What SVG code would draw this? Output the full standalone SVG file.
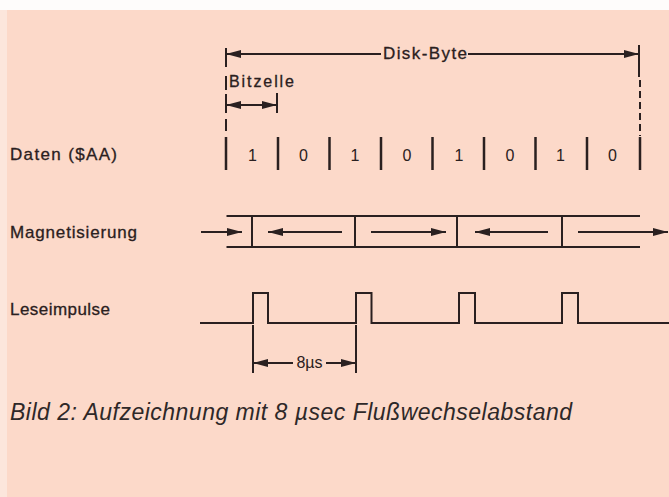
<svg xmlns="http://www.w3.org/2000/svg" width="669" height="497" viewBox="0 0 669 497">
<defs>
<style>
.bg{fill:#fcd9c9}
.ln{stroke:#2a2020;stroke-width:2;fill:none}
.tk{stroke:#2a2020;stroke-width:2.5;fill:none}
.lbl{font-family:"Liberation Sans",Arial,sans-serif;font-size:17px;fill:#2a2020;stroke:#2a2020;stroke-width:0.3}
.dig{font-family:"Liberation Sans",Arial,sans-serif;font-size:16px;fill:#2a2020;text-anchor:middle}
.cap{font-family:"Liberation Sans",Arial,sans-serif;font-size:23px;font-style:italic;fill:#2e2828}
.arr{stroke:#2a2020;stroke-width:2;fill:none;marker-end:url(#ah)}
.arr2{stroke:#2a2020;stroke-width:2;fill:none;marker-start:url(#ah);marker-end:url(#ah)}
</style>
<marker id="ah" markerUnits="userSpaceOnUse" markerWidth="16" markerHeight="10" refX="15" refY="4" orient="auto-start-reverse">
<path d="M0,0 L15,4 L0,8 z" fill="#2a2020"/>
</marker>
</defs>
<rect x="0" y="0" width="669" height="497" fill="#fefcfb"/>
<rect class="bg" x="0" y="10" width="669" height="487"/>
<rect x="0" y="10" width="7" height="487" fill="#fce6dc"/>

<g id="label-daten"><text class="lbl" x="10" y="160" textLength="107" lengthAdjust="spacing">Daten ($AA)</text></g>
<g id="label-magnetisierung"><text class="lbl" x="10" y="237.5" textLength="127" lengthAdjust="spacing">Magnetisierung</text></g>
<g id="label-leseimpulse"><text class="lbl" x="10" y="314.5" textLength="100" lengthAdjust="spacing">Leseimpulse</text></g>

<g id="disk-byte">
<path class="ln" d="M226,48 V67 M226,76 V90 M226,94 V113 M226,119 V131 M639,45 V77"/>
<path class="ln" d="M640,80 V136" stroke-dasharray="7 4"/>
<text class="lbl" x="383" y="59" textLength="84" lengthAdjust="spacing">Disk-Byte</text>
</g>

<g id="bitzelle">
<path class="ln" d="M277,93 V113"/>
<text class="lbl" x="229" y="87" style="font-size:16px" textLength="65" lengthAdjust="spacing">Bitzelle</text>
</g>

<g id="daten-row">
<path class="tk" d="M226,137 V170 M278,137 V170 M329.5,137 V170 M381,137 V170 M432.5,137 V170 M484,137 V170 M535.5,137 V170 M587,137 V170 M640,137 V170"/>
<text class="dig" x="252.5" y="161">1</text>
<text class="dig" x="303.5" y="161">0</text>
<text class="dig" x="355" y="161">1</text>
<text class="dig" x="407" y="161">0</text>
<text class="dig" x="459" y="161">1</text>
<text class="dig" x="510" y="161">0</text>
<text class="dig" x="560.5" y="161">1</text>
<text class="dig" x="612.5" y="161">0</text>
</g>

<g id="magnetisierung">
<path class="ln" d="M226.5,216 H640 M226.5,247 H640 M252,216 V247 M355,216 V247 M457,216 V247 M562,216 V247"/>
</g>

<g id="leseimpulse">
<path class="ln" d="M200,323 H253 V293 H268 V323 H356 V293 H371.5 V323 H459 V293 H475 V323 H562 V293 H578 V323 H669"/>
</g>

<g id="timing">
<path class="ln" d="M253,325 V373 M356,325 V373"/>
<text class="dig" x="309.5" y="368">8µs</text>
</g>

<g id="connectors">
<path class="arr" d="M381,54 H226"/>
<path class="arr" d="M468,54 H639"/>
<path class="arr2" d="M226,105 H277"/>
<path class="arr" d="M201,232 H242"/>
<path class="arr" d="M342,232 H268"/>
<path class="arr" d="M371,232 H446"/>
<path class="arr" d="M548,232 H475"/>
<path class="arr" d="M578,232 H668"/>
<path class="arr" d="M293,363 H253"/>
<path class="arr" d="M326,363 H356"/>
</g>

<g id="caption">
<text class="cap" x="10" y="420" textLength="562" lengthAdjust="spacing">Bild 2: Aufzeichnung mit 8 µsec Flußwechselabstand</text>
</g>
</svg>
